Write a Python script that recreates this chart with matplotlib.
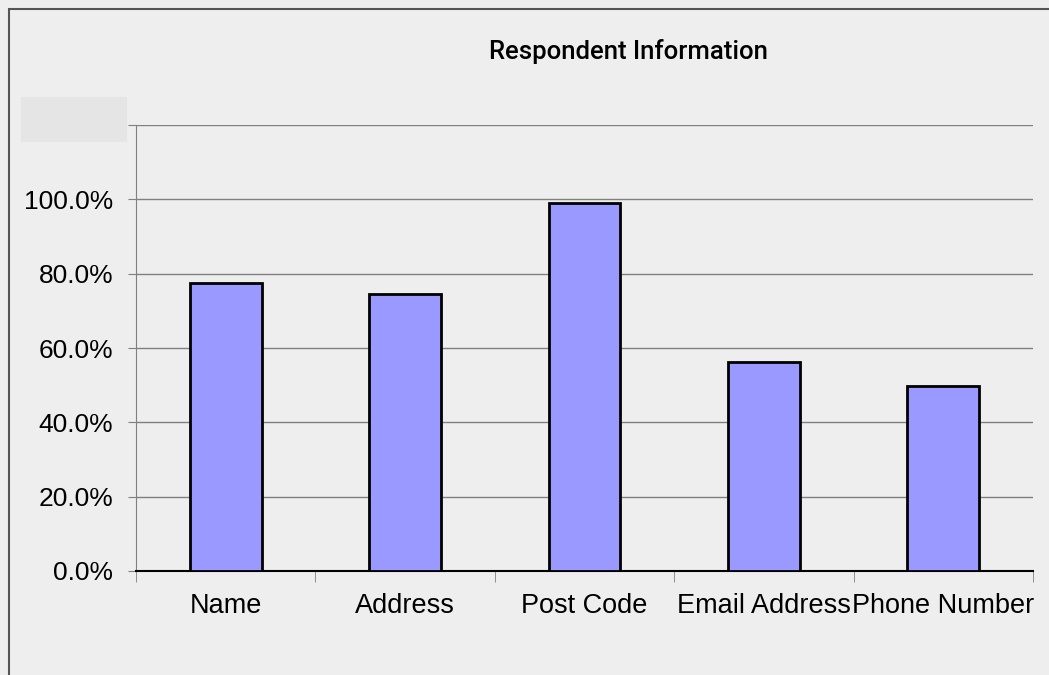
import numpy as np
import matplotlib
matplotlib.use('Agg')
import matplotlib.pyplot as plt
from matplotlib.patches import Rectangle
from matplotlib.ticker import FuncFormatter

categories = ['Name', 'Address', 'Post Code', 'Email Address', 'Phone Number']
values = [0.775, 0.745, 0.99, 0.562, 0.497]
yticks = [0.0, 0.2, 0.4, 0.6, 0.8, 1.0, 1.2]

bg = '#eeeeee'
plt.rcParams['font.family'] = ['Liberation Sans', 'DejaVu Sans']
fig = plt.figure(figsize=(10.49, 6.75), dpi=100, facecolor=bg)

# outer frame (left and top edges visible)
fig.patches.append(Rectangle((9/1049, -0.1), 1.2, (675 - 9)/675 + 0.1,
                             transform=fig.transFigure, fill=False,
                             edgecolor='#555555', linewidth=1.5))

ax = fig.add_axes([136/1049, 1 - 571/675, (1033 - 136)/1049, (571 - 125)/675])
ax.set_facecolor(bg)

x = np.arange(len(categories))
ax.bar(x, values, width=0.4, color='#9999ff', edgecolor='black', linewidth=2, zorder=3)

ax.set_xlim(-0.5, len(categories) - 0.5)
ax.set_ylim(0, 1.2)
ax.set_yticks(yticks)
ax.yaxis.set_major_formatter(FuncFormatter(lambda v, p: '%.1f%%' % (v * 100)))
ax.grid(axis='y', color='#808080', linewidth=1, zorder=0)
ax.tick_params(axis='y', length=6, color='#808080', labelsize=19, pad=10.5)

ax.set_xticks(x)
ax.set_xticklabels(categories, fontsize=19.5)
ax.set_xticks(np.arange(-0.5, len(categories)), minor=True)
ax.tick_params(axis='x', which='major', length=0, pad=16)
ax.tick_params(axis='x', which='minor', length=8, color='#808080')

for s in ['top', 'right']:
    ax.spines[s].set_visible(False)
ax.spines['left'].set_color('#808080')
ax.spines['bottom'].set_color('black')
ax.spines['bottom'].set_linewidth(1.5)

# blank box covering the top label
fig.patches.append(Rectangle((21/1049, 1 - 142/675), 106/1049, 45/675,
                             transform=fig.transFigure, facecolor='#e5e5e5',
                             edgecolor='none', zorder=5))

fig.text(628/1049, 1 - 51/675, 'Respondent Information', ha='center', va='center',
         fontsize=18.5, family='Roboto', fontweight='medium')

fig.savefig('out.png', dpi=100, facecolor=bg)
